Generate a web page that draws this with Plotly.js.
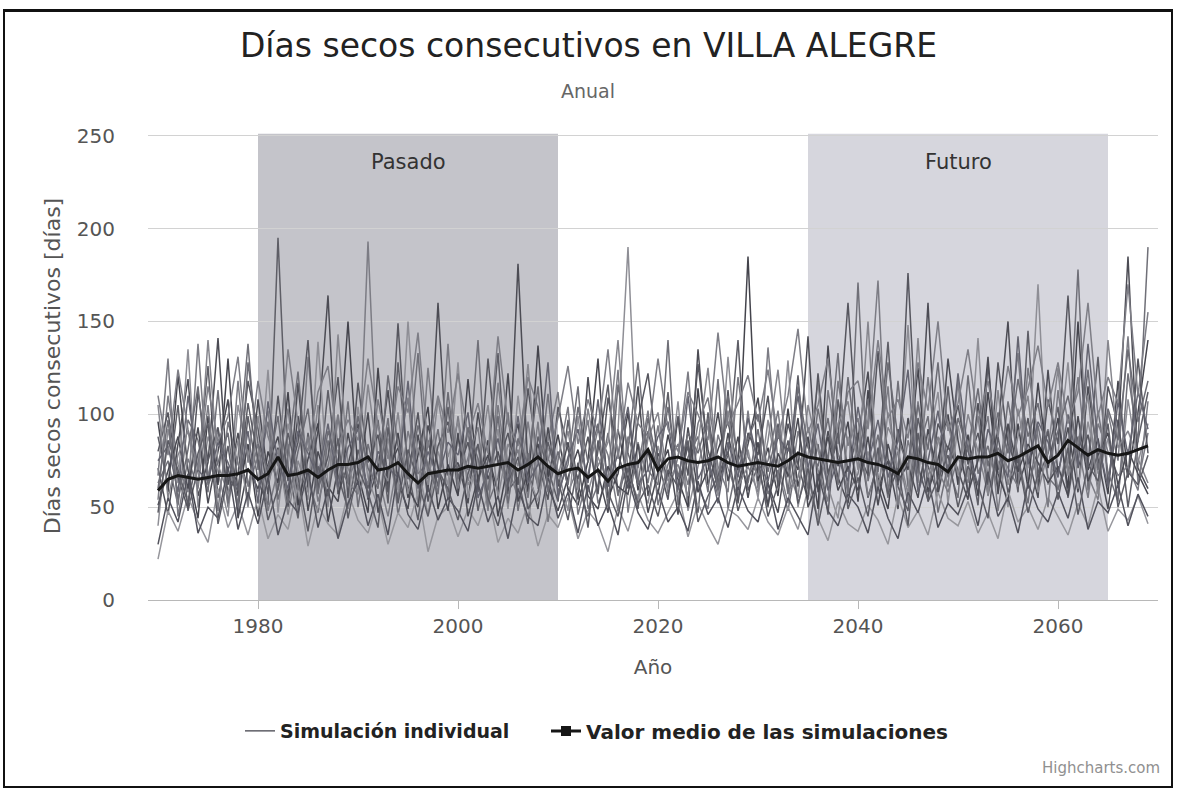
<!DOCTYPE html>
<html>
<head>
<meta charset="utf-8">
<script src="https://cdn.plot.ly/plotly-3.0.1.min.js"></script>
<style>
html,body{margin:0;padding:0;background:#fff;}
#wrap{position:relative;width:1177px;height:788px;}
#chart{position:absolute;left:0;top:0;width:1177px;height:788px;}
#frame{position:absolute;left:3px;top:9px;width:1166px;height:774px;border:2px solid #111;border-top-width:3px;pointer-events:none;}
</style>
</head>
<body>
<div id="wrap"><div id="chart"></div><div id="frame"></div></div>
<script>
// Years 1970 - 2069
var years = [];
for (var y = 1970; y <= 2069; y++) years.push(y);

var sim1 = [88,62,105,48,71,126,55,83,47,99, 64,51,195,72,44,90,58,113,67,49, 81,60,97,52,128,70,43,86,61,104, 57,92,48,75,133,59,66,41,88,70, 53,97,62,45,80,116,57,73,49,91, 68,112,54,86,47,101,63,78,140,59, 72,50,95,66,121,57,84,46,108,69, 90,55,74,139,61,48,98,72,57,115, 64,83,51,127,70,94,58,145,66,79, 104,55,88,73,131,62,97,50,86,112];
var sim2 = [54,110,73,58,138,66,92,50,118,61, 77,102,59,84,48,131,70,55,98,63, 57,193,68,45,76,109,52,125,71,58, 99,64,83,49,117,72,55,96,60,87, 112,58,71,97,52,66,124,47,85,63, 94,57,77,123,61,49,89,71,55,102, 60,136,74,52,91,67,43,113,79,58, 68,97,172,59,80,52,107,66,88,61, 118,57,76,99,48,86,133,64,77,92, 59,82,120,67,54,101,75,142,63,90];
var sim3 = [71,46,84,119,56,74,141,62,90,53, 108,66,82,50,117,60,91,164,57,73, 95,54,71,113,63,49,89,58,160,67, 74,52,101,65,80,57,181,70,49,93, 61,85,54,120,68,47,92,64,115,56, 79,66,98,51,135,73,57,90,62,84, 109,63,47,82,70,142,58,91,66,52, 87,123,60,75,49,98,68,160,57,83, 70,54,106,65,92,150,61,78,55,124, 68,93,58,115,76,49,88,185,71,60];
var sim4 = [40,92,63,135,50,88,69,45,105,77, 58,124,47,95,70,54,139,61,81,49, 104,66,50,87,59,150,72,46,80,62, 128,55,76,60,92,49,110,67,53,82, 70,48,99,58,77,63,91,190,66,52, 83,60,107,48,72,94,56,131,68,81, 55,97,65,129,50,78,117,61,44,88, 63,80,57,101,70,148,59,84,112,52, 94,66,141,58,75,50,103,71,170,62, 79,128,60,96,68,87,55,108,74,95];
var sim5 = [96,58,121,70,44,99,62,130,56,84, 45,80,63,112,51,76,95,42,71,150, 68,47,125,61,90,55,78,104,49,73, 56,119,63,86,45,74,95,58,137,66, 89,60,51,75,130,55,68,101,59,80, 57,89,65,50,114,62,81,96,70,185, 64,82,56,103,61,88,49,137,72,96, 53,113,66,49,92,70,125,58,76,100, 62,89,56,112,68,53,95,60,117,71, 98,60,150,70,87,57,118,66,101,140];
var sim6 = [63,75,51,97,86,58,113,52,77,138, 70,96,54,78,123,65,47,86,59,107, 50,84,62,98,46,72,133,65,92,54, 87,70,140,52,66,101,48,79,62,111, 58,73,115,49,62,90,56,81,128,70, 62,140,51,77,88,58,119,49,75,63, 92,57,70,48,80,60,103,75,133,56, 171,64,89,55,118,61,80,99,47,73, 55,121,68,83,60,107,77,52,94,66, 60,74,178,59,102,69,53,122,85,190];
var sim7 = [22,48,37,56,42,31,60,39,52,35, 55,33,46,38,62,29,51,41,35,58, 43,36,54,30,47,39,58,26,45,50, 34,49,40,57,31,44,36,52,29,46, 39,55,33,48,41,26,50,37,57,43, 36,47,58,34,52,40,30,49,45,38, 55,42,35,50,38,60,44,32,53,41, 37,51,43,30,56,39,48,35,58,44, 40,53,36,47,33,59,42,50,38,55, 45,35,52,40,61,37,49,43,56,41];
var sim8 = [80,101,66,49,112,75,93,58,68,118, 92,57,110,64,85,140,60,77,120,55, 117,74,89,58,149,66,101,53,83,96, 69,85,58,130,73,90,62,114,75,54, 104,81,65,88,57,109,79,60,97,122, 75,54,99,67,127,81,60,113,52,90, 78,110,61,95,73,54,122,68,87,160, 80,67,134,76,62,176,72,54,95,81, 105,73,90,62,128,84,70,98,61,108, 84,164,71,89,60,115,94,66,130,79];
var sim9 = [67,130,45,76,60,105,48,96,73,62, 84,48,70,103,59,88,53,72,100,66, 76,62,108,79,55,91,68,74,58,138, 60,76,93,48,105,66,81,55,96,42, 75,104,46,68,92,78,48,88,71,102, 51,73,84,62,95,109,72,58,120,77, 67,75,102,59,66,93,70,53,118,83, 98,56,72,115,51,86,63,120,70,58, 77,63,99,56,82,71,61,125,87,50, 113,70,84,55,95,80,67,72,59,107];
var sim10 = [51,69,88,60,93,52,80,108,44,71, 60,73,88,56,99,48,80,61,53,90, 62,101,47,70,82,61,50,94,72,48, 90,45,66,78,58,122,53,69,84,61, 48,66,81,56,49,72,61,57,84,47, 69,81,46,93,58,70,101,64,88,55, 85,51,79,67,98,50,64,88,59,72, 59,88,51,84,64,73,55,92,66,130, 86,58,75,131,57,95,69,84,74,63, 72,56,99,64,78,90,62,81,68,57];
var sim11 = [105,55,78,91,62,140,73,57,86,50, 99,62,81,46,75,58,105,50,143,71, 58,116,75,64,101,57,82,62,108,77, 96,62,72,105,55,84,72,127,60,76, 66,91,59,103,72,85,140,69,54,87, 101,64,73,56,84,125,66,102,61,72, 58,86,124,70,55,105,81,62,95,107, 70,150,60,93,81,57,141,61,85,96, 67,100,80,57,113,62,88,110,58,80, 125,67,85,110,57,140,82,91,76,63];
var sim12 = [75,83,58,110,70,64,85,74,60,91, 52,107,74,60,91,79,66,95,61,82, 92,55,80,71,66,118,60,80,66,85, 78,101,55,69,87,61,99,63,73,128, 55,77,92,63,108,61,79,104,62,70, 88,96,59,110,65,77,52,85,66,98, 74,64,88,80,110,71,95,59,76,64, 104,73,97,66,86,124,58,75,102,67, 122,80,62,92,79,66,142,73,96,85, 66,100,72,138,84,61,107,78,112,92];
var sim13 = [30,55,42,68,36,50,44,72,38,58, 41,66,35,54,47,70,39,60,33,52, 64,40,57,35,69,46,38,61,43,55, 48,37,63,42,56,33,60,45,40,66, 44,58,36,62,40,52,35,66,47,38, 59,42,50,37,64,46,55,39,61,48, 42,63,38,55,45,35,68,48,40,57, 50,36,61,44,33,58,47,66,39,52, 46,60,40,69,45,55,36,63,49,42, 58,44,66,38,53,47,62,40,57,45];
var sim14 = [110,78,124,92,70,115,85,99,131,74, 118,88,72,135,95,80,112,126,83,97, 86,130,94,76,115,101,144,82,110,90, 122,88,106,79,142,95,83,120,104,75, 98,126,84,108,90,135,76,117,95,88, 130,92,80,112,100,86,144,94,106,121, 96,124,87,110,146,90,105,130,84,112, 118,92,140,98,108,87,128,102,150,91, 106,135,96,118,88,126,99,114,137,104, 128,95,112,160,99,120,106,170,110,155];
var sim15 = [47,86,70,52,79,95,41,66,59,106, 76,43,60,90,66,37,72,56,87,44, 71,58,39,93,52,81,64,45,70,60, 43,68,84,55,40,63,77,49,58,85, 65,43,74,39,86,58,45,71,52,62, 45,70,61,83,42,56,67,80,48,66, 76,45,62,86,52,71,40,67,90,49, 66,45,82,57,71,40,90,53,65,78, 50,72,62,44,88,58,76,47,68,91, 54,82,46,73,64,95,50,69,62,78];
var sim16 = [60,97,54,81,115,62,74,90,50,128, 84,70,99,52,80,103,57,91,74,63, 99,71,60,121,83,65,94,72,57,112, 65,93,76,59,99,52,87,73,115,58, 80,62,104,74,95,50,116,79,63,98, 72,104,66,90,79,98,59,110,75,87, 100,69,93,57,115,82,72,98,62,120, 75,108,69,128,87,72,105,81,128,66, 98,80,114,72,101,79,119,88,106,73, 91,110,80,124,70,103,86,135,96,118];

var meanValues = [59,65,67,66,65,66,67,67,68,70, 65,68,77,67,68,70,66,70,73,73, 74,77,70,71,74,68,63,68,69,70, 70,72,71,72,73,74,70,73,77,72, 68,70,71,66,70,64,71,73,74,81, 70,76,77,75,74,75,77,74,72,73, 74,73,72,75,79,77,76,75,74,75, 76,74,73,71,68,77,76,74,73,69, 77,76,77,77,79,75,77,80,83,74, 78,86,82,78,81,79,78,79,81,83];

var simulations = [sim1, sim2, sim3, sim4, sim5, sim6, sim7, sim8, sim9, sim10, sim11, sim12, sim13, sim14, sim15, sim16];
var simColors = ['#5e5e66','#7c7c84','#4c4c54','#8e8e95','#44444c','#707078','#96969c','#56565e','#7a7a82','#4a4a52','#86868d','#646470','#52525c','#7e7e86','#5c5c64','#6c6c74'];

var bands = [
  {label: 'Pasado', from: 1980, to: 2010, color: '#c4c4ca'},
  {label: 'Futuro', from: 2035, to: 2065, color: '#d6d6dd'}
];
var yTicks = [0, 50, 100, 150, 200, 250];
var xTicks = [1980, 2000, 2020, 2040, 2060];

var traces = [];
simulations.forEach(function (s, i) {
  traces.push({
    x: years, y: s, type: 'scatter', mode: 'lines',
    name: 'Simulación individual', legendgroup: 'sim', showlegend: i === 0, legend: 'legend',
    line: {color: simColors[i], width: 1.5},
    hoverinfo: 'x+y'
  });
});
traces.push({
  x: years, y: meanValues, type: 'scatter', mode: 'lines',
  name: 'Valor medio de las simulaciones', legendgroup: 'mean', showlegend: false,
  line: {color: '#161616', width: 3}
});
traces.push({
  x: [null], y: [null], type: 'scatter', mode: 'lines+markers',
  name: 'Valor medio de las simulaciones', legendgroup: 'mean', showlegend: true, legend: 'legend2',
  line: {color: '#161616', width: 3},
  marker: {symbol: 'square', size: 10, color: '#161616'}
});

var shapes = bands.map(function (b) {
  return {type: 'rect', xref: 'x', yref: 'y', x0: b.from, x1: b.to, y0: 0, y1: 251,
          fillcolor: b.color, line: {width: 0}, layer: 'below'};
});
var annotations = bands.map(function (b) {
  return {x: (b.from + b.to) / 2, y: 236, xref: 'x', yref: 'y', text: b.label,
          showarrow: false, font: {size: 21, color: '#333'}};
});
// plot area: x 148..1158, y 132..600 (pixels)
annotations.push({text: 'Anual', xref: 'paper', yref: 'paper', x: (588 - 148) / 1010, y: (600 - 91) / 468,
  xanchor: 'center', yanchor: 'middle', showarrow: false, font: {size: 19, color: '#666'}});
annotations.push({text: 'Highcharts.com', xref: 'paper', yref: 'paper', x: (1162 - 148) / 1010, y: (600 - 768) / 468,
  xanchor: 'right', yanchor: 'middle', showarrow: false, font: {size: 15, color: '#909090'}});

var legendFont = {size: 19, color: '#222', weight: 'bold'};
var legend2Font = {size: 20, color: '#222', weight: 'bold'};
var layout = {
  width: 1177, height: 788,
  font: {family: 'DejaVu Sans, sans-serif', color: '#555'},
  paper_bgcolor: '#fff', plot_bgcolor: '#fff',
  margin: {l: 148, r: 19, t: 132, b: 188},
  title: {text: 'Días secos consecutivos en VILLA ALEGRE', x: 0.5, xanchor: 'center',
          xref: 'container', yref: 'container', y: 1 - 45/788, yanchor: 'middle',
          font: {size: 33, color: '#222'}},
  xaxis: {range: [1969, 2070], tickvals: xTicks, ticktext: xTicks.map(String),
          showgrid: false, zeroline: false, showline: true, linecolor: '#b8b8b8', linewidth: 1,
          ticks: 'outside', ticklen: 8, tickcolor: '#b8b8b8', tickfont: {size: 20, color: '#555'},
          title: {text: 'Año', font: {size: 20, color: '#555'}, standoff: 22}},
  yaxis: {range: [0, 252], tickvals: yTicks, ticktext: yTicks.map(String),
          showgrid: true, gridcolor: '#d2d2d2', gridwidth: 1, zeroline: false, showline: false,
          ticks: '', tickfont: {size: 20, color: '#555'}, ticklabelstandoff: 32,
          title: {text: 'Días secos consecutivos [días]', font: {size: 22, color: '#555'}, standoff: 10}},
  legend: {orientation: 'h', xref: 'container', yref: 'container', x: 240/1177, y: 1 - 731/788,
           xanchor: 'left', yanchor: 'middle', font: legendFont, bgcolor: 'rgba(0,0,0,0)'},
  legend2: {orientation: 'h', xref: 'container', yref: 'container', x: 546/1177, y: 1 - 731/788,
           xanchor: 'left', yanchor: 'middle', font: legend2Font, bgcolor: 'rgba(0,0,0,0)'},
  shapes: shapes,
  annotations: annotations,
  showlegend: true
};

Plotly.newPlot('chart', traces, layout, {displayModeBar: false, staticPlot: true});
</script>
</body>
</html>
